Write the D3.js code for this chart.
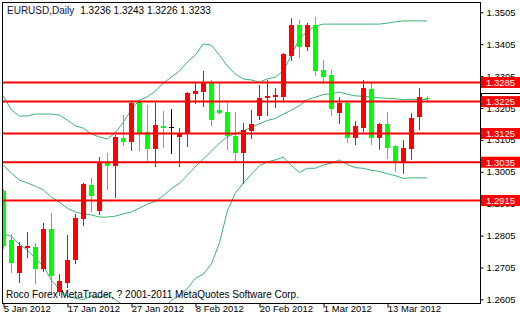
<!DOCTYPE html>
<html><head><meta charset="utf-8">
<script src="https://cdn.jsdelivr.net/npm/d3@7"></script>
<style>
body{margin:0;background:#fff}
svg{display:block}
text{font-family:"Liberation Sans",Arial,sans-serif;font-size:9.5px}
</style>
</head><body>
<svg id="chart" width="520" height="320"></svg>
<script>
// ---------- data ----------
const dates = ["2012-01-05","2012-01-06","2012-01-09","2012-01-10","2012-01-11","2012-01-12","2012-01-13","2012-01-16","2012-01-17","2012-01-18","2012-01-19","2012-01-20","2012-01-23","2012-01-24","2012-01-25","2012-01-26","2012-01-27","2012-01-30","2012-01-31","2012-02-01","2012-02-02","2012-02-03","2012-02-06","2012-02-07","2012-02-08","2012-02-09","2012-02-10","2012-02-13","2012-02-14","2012-02-15","2012-02-16","2012-02-17","2012-02-20","2012-02-21","2012-02-22","2012-02-23","2012-02-24","2012-02-27","2012-02-28","2012-02-29","2012-03-01","2012-03-02","2012-03-05","2012-03-06","2012-03-07","2012-03-08","2012-03-09","2012-03-12","2012-03-13","2012-03-14","2012-03-15","2012-03-16","2012-03-19","2012-03-20"];
const open  = [1.2945,1.2791,1.2689,1.2767,1.2769,1.2699,1.2826,1.2629,1.2657,1.2729,1.2856,1.2964,1.2883,1.3033,1.3023,1.3111,1.3099,1.3227,1.3131,1.3077,1.3149,1.3145,1.3115,1.3128,1.3250,1.3256,1.3284,1.3199,1.3193,1.3117,1.3065,1.3134,1.3180,1.3237,1.3240,1.3239,1.3369,1.3465,1.3397,1.3465,1.3324,1.3308,1.3190,1.3222,1.3112,1.3143,1.3265,1.3112,1.3155,1.3086,1.3032,1.3076,1.3178,1.3236];
const high  = [1.2950,1.2809,1.2784,1.2817,1.2781,1.2845,1.2877,1.2684,1.2807,1.2873,1.2969,1.2986,1.3052,1.3065,1.3120,1.3183,1.3225,1.3230,1.3214,1.3220,1.3196,1.3202,1.3141,1.3255,1.3284,1.3321,1.3293,1.3284,1.3220,1.3193,1.3157,1.3199,1.3277,1.3293,1.3267,1.3376,1.3488,1.3481,1.3471,1.3489,1.3355,1.3324,1.3240,1.3227,1.3164,1.3293,1.3284,1.3157,1.3192,1.3089,1.3105,1.3190,1.3267,1.3243];
const low   = [1.2766,1.2692,1.2661,1.2739,1.2657,1.2694,1.2629,1.2619,1.2645,1.2719,1.2838,1.2883,1.2873,1.2951,1.2927,1.3089,1.3073,1.3073,1.3037,1.3023,1.3082,1.3065,1.3023,1.3086,1.3220,1.3212,1.3152,1.3188,1.3076,1.3037,1.2969,1.3110,1.3170,1.3183,1.3209,1.3230,1.3355,1.3366,1.3387,1.3308,1.3284,1.3183,1.3159,1.3099,1.3092,1.3134,1.3092,1.3077,1.3047,1.3008,1.3002,1.3045,1.3139,1.3226];
const close = [1.2772,1.2718,1.2772,1.2772,1.2700,1.2826,1.2678,1.2663,1.2729,1.2861,1.2967,1.2930,1.3037,1.3023,1.3115,1.3099,1.3220,1.3128,1.3076,1.3152,1.3142,1.3145,1.3126,1.3253,1.3258,1.3288,1.3167,1.3188,1.3117,1.3065,1.3136,1.3155,1.3237,1.3243,1.3246,1.3374,1.3465,1.3397,1.3465,1.3321,1.3303,1.3202,1.3222,1.3112,1.3149,1.3269,1.3112,1.3155,1.3081,1.3032,1.3079,1.3173,1.3240,1.3233];
const bandUpper = [1.3243,1.3199,1.3180,1.3180,1.3186,1.3186,1.3186,1.3183,1.3167,1.3149,1.3142,1.3124,1.3114,1.3108,1.3127,1.3161,1.3199,1.3230,1.3240,1.3258,1.3283,1.3302,1.3321,1.3349,1.3371,1.3406,1.3402,1.3371,1.3337,1.3312,1.3296,1.3293,1.3286,1.3296,1.3302,1.3321,1.3371,1.3421,1.3446,1.3462,1.3468,1.3468,1.3468,1.3468,1.3468,1.3468,1.3468,1.3468,1.3471,1.3475,1.3478,1.3478,1.3478,1.3478];
const bandMiddle = [1.3026,1.3001,1.2979,1.2970,1.2960,1.2948,1.2926,1.2910,1.2891,1.2879,1.2873,1.2870,1.2863,1.2863,1.2866,1.2873,1.2879,1.2891,1.2904,1.2912,1.2930,1.2952,1.2969,1.2994,1.3021,1.3045,1.3069,1.3095,1.3115,1.3125,1.3133,1.3145,1.3155,1.3166,1.3172,1.3186,1.3198,1.3212,1.3231,1.3239,1.3247,1.3250,1.3255,1.3248,1.3243,1.3242,1.3239,1.3237,1.3235,1.3234,1.3231,1.3232,1.3232,1.3232];
const bandLower = [1.2809,1.2803,1.2778,1.2760,1.2734,1.2710,1.2666,1.2637,1.2615,1.2609,1.2604,1.2616,1.2612,1.2618,1.2605,1.2585,1.2559,1.2552,1.2568,1.2566,1.2577,1.2602,1.2617,1.2639,1.2671,1.2684,1.2716,1.2780,1.2882,1.2938,1.2970,1.2997,1.3024,1.3036,1.3042,1.3051,1.3025,1.3003,1.3016,1.3016,1.3026,1.3032,1.3042,1.3028,1.3018,1.3016,1.3010,1.3006,1.2999,1.2993,1.2984,1.2986,1.2986,1.2986];
const levels = [1.3285,1.3225,1.3125,1.3035,1.2915];
const priceTicks = [1.2605,1.2705,1.2805,1.2905,1.3005,1.3105,1.3205,1.3305,1.3405,1.3505];
const dateTicks = ["2012-01-05","2012-01-17","2012-01-27","2012-02-08","2012-02-20","2012-03-01","2012-03-13"];
const title = "EURUSD,Daily";
const quote = "1.3236 1.3243 1.3226 1.3233";
const footer = "Roco Forex MetaTrader, ? 2001-2011 MetaQuotes Software Corp.";

// ---------- layout ----------
const L = 3, T = 3, R = 480, B = 303;
const svg = d3.select("#chart");
const x = d3.scalePoint().domain(dates).range([3.3, 427.3]);
const y = d3.scaleLinear().domain([1.25937, 1.35373]).range([303, 2]);
const parse = d3.timeParse("%Y-%m-%d");
const fmtDate = d3.timeFormat("%-d %b %Y");

svg.append("rect").attr("width",520).attr("height",320).attr("fill","#fff");
svg.append("defs").append("clipPath").attr("id","clip")
  .append("rect").attr("x",L).attr("y",T).attr("width",R-L).attr("height",B-T);
const plot = svg.append("g").attr("clip-path","url(#clip)");

// Bollinger bands
[bandUpper, bandMiddle, bandLower].forEach(arr => {
  plot.append("path")
    .datum(arr)
    .attr("fill","none")
    .attr("stroke","#3CB371")
    .attr("stroke-width",1)
    .attr("d", d3.line().x((d,i)=>x(dates[i])).y(d=>y(d)));
});

// candles
const candles = dates.map((d,i)=>({d,o:open[i],h:high[i],l:low[i],c:close[i]}));
const col = c => c.c > c.o ? "#FF0000" : (c.c < c.o ? "#00FF00" : "#000000");
const g = plot.selectAll("g.candle").data(candles).join("g").attr("class","candle");
g.append("line")
  .attr("x1", c => Math.round(x(c.d)) + 0.5)
  .attr("x2", c => Math.round(x(c.d)) + 0.5)
  .attr("y1", c => Math.round(y(c.h)))
  .attr("y2", c => Math.round(y(c.l)) + 1)
  .attr("stroke", col).attr("stroke-width",1);
g.append("rect")
  .attr("x", c => Math.round(x(c.d)) - 2)
  .attr("width", 5)
  .attr("y", c => Math.round(y(Math.max(c.o,c.c))))
  .attr("height", c => Math.max(1, Math.round(y(Math.min(c.o,c.c))) - Math.round(y(Math.max(c.o,c.c)))))
  .attr("fill", col);

// horizontal levels
plot.selectAll("line.level").data(levels).join("line").attr("class","level")
  .attr("x1", L).attr("x2", R+1)
  .attr("y1", d => y(d)).attr("y2", d => y(d))
  .attr("stroke","#FF0000").attr("stroke-width",2);

// frame
svg.append("rect").attr("x",2.5).attr("y",2.5).attr("width",478).attr("height",301)
  .attr("fill","none").attr("stroke","#000").attr("stroke-width",1);

// right price axis
const yAxis = svg.append("g").attr("transform",`translate(480.5,0)`)
  .call(d3.axisRight(y).tickValues(priceTicks).tickFormat(d3.format(".4f")).tickSize(3).tickPadding(3).tickSizeOuter(0));
yAxis.select(".domain").remove();
yAxis.selectAll("line").attr("stroke","#000");
yAxis.selectAll("text").attr("fill","#000").style("font-size","9.5px").style("font-family","'Liberation Sans',Arial,sans-serif");

// bottom date axis
const xAxis = svg.append("g").attr("transform",`translate(0,303.5)`)
  .call(d3.axisBottom(x).tickValues(dateTicks).tickFormat(d=>fmtDate(parse(d))).tickSize(4).tickSizeOuter(0));
xAxis.select(".domain").remove();
xAxis.selectAll(".tick line").attr("stroke","#000").attr("transform","translate(0.2,0)");
xAxis.selectAll("text").attr("fill","#000").attr("text-anchor","start").attr("x",0).attr("y",2).attr("dy","0.71em")
  .style("font-size","9.5px").style("font-family","'Liberation Sans',Arial,sans-serif");

// bid price box (under level labels)
const bid = close[close.length-1];
svg.append("rect").attr("x",481.5).attr("y",Math.round(y(bid))-5.5).attr("width",40).attr("height",11)
  .attr("fill","#fff").attr("stroke","#000");

// level labels
const lab = svg.selectAll("g.lab").data(levels).join("g").attr("class","lab");
lab.append("rect").attr("x",481).attr("y",d=>y(d)-5.5).attr("width",39).attr("height",11).attr("fill","#FF0000");
lab.append("text").attr("x",486).attr("y",d=>y(d)).attr("dy","0.35em").attr("fill","#fff").text(d=>d3.format(".4f")(d));

// title and footer
const t = svg.append("text").attr("x",7).attr("y",14).attr("fill","#000").style("font-size","10px");
t.append("tspan").attr("fill","#101040").text(title);
t.append("tspan").attr("dx",6).text(quote);
svg.append("text").attr("x",6).attr("y",298).attr("fill","#000").style("font-size","10px").text(footer);
</script>
</body></html>
